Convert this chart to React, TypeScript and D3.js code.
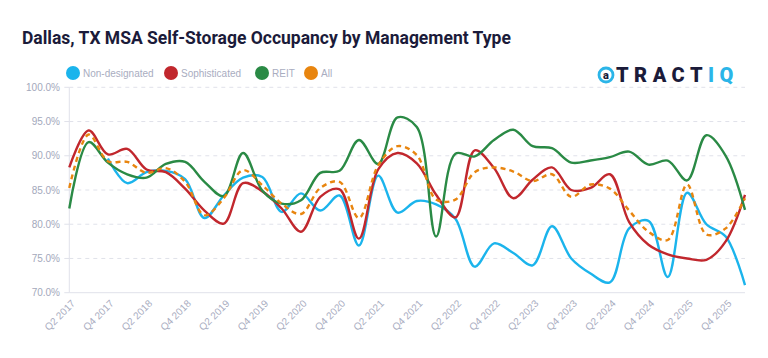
import React from 'react';
import * as d3 from 'd3';

// quarters on the category axis (every other one is labelled)
const quarters = [
  'Q2 2017', 'Q3 2017', 'Q4 2017', 'Q1 2018', 'Q2 2018', 'Q3 2018', 'Q4 2018', 'Q1 2019', 'Q2 2019',
  'Q3 2019', 'Q4 2019', 'Q1 2020', 'Q2 2020', 'Q3 2020', 'Q4 2020', 'Q1 2021', 'Q2 2021', 'Q3 2021',
  'Q4 2021', 'Q1 2022', 'Q2 2022', 'Q3 2022', 'Q4 2022', 'Q1 2023', 'Q2 2023', 'Q3 2023', 'Q4 2023',
  'Q1 2024', 'Q2 2024', 'Q3 2024', 'Q4 2024', 'Q1 2025', 'Q2 2025', 'Q3 2025', 'Q4 2025', 'Q1 2026',
];

const nonDesignated = [
  null, null, 89.6, 86.0, 87.6, 87.8, 86.6, 80.9, 84.2, 86.8, 86.9, 81.8, 84.5, 82.0, 84.2, 76.9, 87.1, 81.7,
  83.4, 82.9, 80.8, 73.8, 77.2, 75.8, 74.0, 79.7, 75.0, 72.8, 71.5, 79.4, 80.5, 72.3, 84.6, 80.0, 78.2, 71.1,
];
const sophisticated = [
  88.3, 93.7, 90.2, 91.0, 88.0, 87.6, 85.2, 82.0, 80.1, 86.0, 84.8, 82.3, 78.9, 84.0, 85.1, 77.9, 88.0, 90.4,
  88.9, 84.3, 81.0, 90.8, 88.2, 83.8, 86.5, 88.3, 85.0, 85.3, 87.3, 80.3, 77.0, 75.6, 75.0, 74.8, 77.5, 84.3,
];
const reit = [
  82.3, 92.0, 89.0, 87.3, 86.8, 88.8, 89.1, 86.2, 84.1, 90.4, 84.9, 83.0, 83.5, 87.5, 87.8, 92.3, 88.8, 95.6,
  94.2, 78.2, 90.3, 89.9, 92.3, 93.8, 91.4, 91.1, 89.0, 89.3, 89.8, 90.6, 88.7, 89.3, 86.4, 93.0, 90.0, 82.1,
];
const all = [
  85.3, 93.1, 89.2, 89.1, 87.5, 88.2, 86.2, 81.3, 83.8, 87.9, 85.7, 83.0, 81.5, 85.3, 86.2, 80.9, 88.6, 91.4,
  90.1, 83.6, 83.6, 87.6, 88.3, 87.7, 86.3, 87.3, 84.0, 85.8, 85.2, 82.0, 78.9, 77.7, 85.8, 78.5, 79.4, 83.8,
];

const yTicks = [70, 75, 80, 85, 90, 95, 100];

const series = [
  { name: 'Non-designated', values: nonDesignated, color: '#1bb4ec', dash: null },
  { name: 'Sophisticated', values: sophisticated, color: '#c1272d', dash: null },
  { name: 'REIT', values: reit, color: '#2a8a45', dash: null },
  { name: 'All', values: all, color: '#e8850f', dash: '5 4' },
];

const W = 768;
const H = 358;
const margin = { left: 69.3, right: 23, top: 87.3, bottom: 65.3 };

export default function App() {
  const x = d3.scaleLinear().domain([0, quarters.length - 1]).range([margin.left, W - margin.right]);
  const y = d3.scaleLinear().domain([70, 100]).range([H - margin.bottom, margin.top]);

  const line = d3.line<number | null>()
    .defined(d => d != null)
    .x((_, i) => x(i))
    .y(d => y(d as number))
    .curve(d3.curveCatmullRom.alpha(0.5));

  const labelFont = '"Liberation Sans", Arial, sans-serif';
  const legendX = [73, 171, 262, 311];

  return (
    <svg width={W} height={H} style={{ position: 'absolute', left: 0, top: 0, background: '#fff' }}>
      <text x={22} y={44} fontFamily="Roboto, sans-serif" fontWeight={700} fontSize={17.5} fill="#1b1b3a">
        Dallas, TX MSA Self-Storage Occupancy by Management Type
      </text>

      {/* legend */}
      {series.map((s, i) => (
        <g key={s.name} transform={`translate(${legendX[i]},73)`}>
          <circle r={7} fill={s.color} />
          <text x={10} y={3.5} fontFamily={labelFont} fontSize={10} fill="#a9adbf">{s.name}</text>
        </g>
      ))}

      {/* logo */}
      <g transform="translate(606,75)">
        <circle r={7} fill="none" stroke="#2bb5e8" strokeWidth={2.8} />
        <text x={0} y={4} textAnchor="middle" fontFamily="Roboto, sans-serif" fontWeight={900} fontSize={11} fill="#1b1b3a">a</text>
        <text x={10} y={7} fontFamily="Roboto, sans-serif" fontWeight={900} fontSize={20} letterSpacing={5.5} fill="#1b1b3a">
          TRACT<tspan fill="#2bb5e8">IQ</tspan>
        </text>
      </g>

      {/* grid + y axis */}
      {yTicks.map(t => (
        <g key={t}>
          {t > 70 && (
            <line x1={margin.left} x2={W - margin.right} y1={y(t)} y2={y(t)} stroke="#e0e2ea" strokeDasharray="4 4" />
          )}
          <line x1={margin.left - 5} x2={margin.left} y1={y(t)} y2={y(t)} stroke="#e0e2ea" />
          <text x={60} y={y(t) + 3.5} textAnchor="end" fontFamily={labelFont} fontSize={10} fill="#a3a8bb">
            {t.toFixed(1)}%
          </text>
        </g>
      ))}
      <line x1={margin.left} x2={margin.left} y1={margin.top} y2={H - margin.bottom} stroke="#e0e2ea" />
      <line x1={margin.left} x2={W - margin.right} y1={H - margin.bottom} y2={H - margin.bottom} stroke="#e0e2ea" />

      {/* x labels */}
      {quarters.map((q, i) => i % 2 === 0 && (
        <text key={q} transform={`translate(${x(i) + 4},${H - margin.bottom + 9}) rotate(-45)`}
          textAnchor="end" fontFamily={labelFont} fontSize={10} fill="#a9adbf" dy="0.35em">
          {q}
        </text>
      ))}

      {/* lines */}
      {series.map(s => (
        <path key={s.name} d={line(s.values) || ''} fill="none" stroke={s.color} strokeWidth={2.4}
          strokeDasharray={s.dash || undefined} strokeLinejoin="round" />
      ))}
    </svg>
  );
}
